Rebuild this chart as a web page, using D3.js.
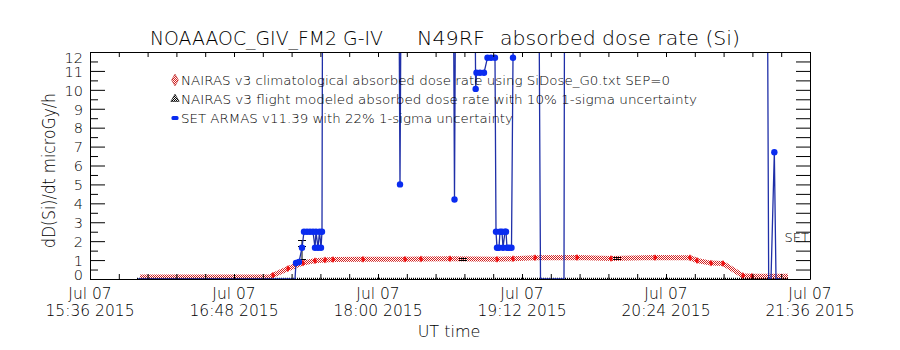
<!DOCTYPE html>
<html>
<head>
<meta charset="utf-8">
<script src="https://cdn.jsdelivr.net/npm/d3@7"></script>
<style>
  body { margin: 0; background: #fff; }
  text { font-family: "DejaVu Sans", sans-serif; font-weight: 200; }
</style>
</head>
<body>
<svg id="chart" width="900" height="350"></svg>
<script>
// ---- data (UT times on 2015-07-07) ----
var xDomain = ["15:36", "21:36"];
var xMajorTicks = ["15:36", "16:48", "18:00", "19:12", "20:24", "21:36"];
var xMinorStep = 14.4; // minutes
var yMajorTicks = d3.range(0, 13, 1);
var yMinorTicks = d3.range(0.5, 12, 1);

// NAIRAS v3 climatological
var redTimes = ["16:01:00","17:06:00","17:07:30","17:15:00","17:22:30","17:28:30","17:33:30","17:37:30",
  "17:52:30","18:13:30","18:21:30","18:36:00","18:59:30","19:07:30","19:18:30","19:39:30","19:56:30",
  "20:18:30","20:36:00","20:39:30","20:46:30","20:52:30","21:02:30","21:07:00","21:25:00"];
var redValues = [0.1,0.1,0.2,0.55,0.85,0.97,1.0,1.03,1.04,1.05,1.06,1.07,1.04,1.07,1.12,1.14,1.08,
  1.13,1.12,0.98,0.84,0.82,0.17,0.14,0.14];

// NAIRAS v3 flight modeled
var blackTimes = ["15:59:30", "21:25:00"];
var blackValues = [0, 0];
var errTimes = ["17:22:00", "17:22:00", "18:42:30", "19:59:30"];
var errLow  = [1.74, 1.05, 1.03, 1.07];
var errHigh = [2.05, 1.74, 1.13, 1.17];

// SET ARMAS v11.39
var blueTimes = ["16:00:00","17:18:30","17:19:00","17:20:30","17:22:00","17:23:00","17:24:30","17:26:00",
  "17:27:30","17:28:30","17:29:00","17:30:00","17:30:45","17:31:30","17:32:00","17:32:15","17:51:00",
  "18:10:30","18:11:00","18:11:30","18:26:00","18:37:45","18:38:15","18:38:45","18:48:30","18:48:50",
  "18:49:15","18:51:00","18:53:00","18:54:45","18:56:30","18:58:30","18:59:00","18:59:30","19:00:30",
  "19:01:00","19:02:00","19:02:30","19:03:30","19:04:00","19:04:30","19:05:30","19:06:45","19:07:30",
  "19:08:00","19:13:30","19:20:30","19:21:15","19:33:00","19:33:15","20:16:00","21:14:45","21:15:20",
  "21:16:30","21:18:10","21:19:00","21:22:00"];
var blueValues = [0,0,0.85,0.9,1.65,2.5,2.5,2.5,
  2.5,1.65,2.5,1.65,2.5,1.65,2.5,14.5,16,
  15,5.0,15,16,15,4.2,15,15,10.05,
  10.9,10.9,10.9,11.7,11.7,11.7,2.5,1.65,1.65,
  2.5,2.5,1.65,2.5,2.5,1.65,1.65,1.65,11.7,
  15,16,15,0,0,15,16,15,0,
  0,6.7,0,0];

var legendLabels = [
  "NAIRAS v3 climatological absorbed dose rate using SiDose_G0.txt SEP=0",
  "NAIRAS v3 flight modeled absorbed dose rate with 10% 1-sigma uncertainty",
  "SET ARMAS v11.39 with 22% 1-sigma uncertainty"
];

// ---- layout ----
var parseT = d3.utcParse("%Y-%m-%d %H:%M:%S");
function T(s) { return parseT("2015-07-07 " + (s.length == 5 ? s + ":00" : s)); }

var margin = {top: 52, right: 90, bottom: 71, left: 90},
    width = 900 - margin.left - margin.right,
    height = 350 - margin.top - margin.bottom;

var svg = d3.select("#chart");
var defs = svg.append("defs");
var hatch = defs.append("pattern").attr("id", "hatch")
  .attr("width", 2).attr("height", 2).attr("patternUnits", "userSpaceOnUse");
hatch.append("rect").attr("x", 0).attr("y", 0).attr("width", 1).attr("height", 1).attr("fill", "#d42020");
hatch.append("rect").attr("x", 1).attr("y", 1).attr("width", 1).attr("height", 1).attr("fill", "#d42020");
var hatchK = defs.append("pattern").attr("id", "hatchK")
  .attr("width", 2).attr("height", 2).attr("patternUnits", "userSpaceOnUse");
hatchK.append("rect").attr("x", 0).attr("y", 0).attr("width", 1).attr("height", 1).attr("fill", "#000");
hatchK.append("rect").attr("x", 1).attr("y", 1).attr("width", 1).attr("height", 1).attr("fill", "#000");
defs.append("clipPath").attr("id", "plotclip")
  .append("rect").attr("x", 0).attr("y", 0).attr("width", width).attr("height", height);

var g = svg.append("g").attr("transform", "translate(" + margin.left + "," + margin.top + ")");

var x = d3.scaleUtc().domain(xDomain.map(T)).range([0, width]);
var y = d3.scaleLinear().domain([0, 12]).range([height, 0]);

var minorDates = d3.range(0, 360.01, xMinorStep).map(function(m) {
  return new Date(T(xDomain[0]).getTime() + m * 60000);
});

// ---- data marks ----
var plot = g.append("g").attr("clip-path", "url(#plotclip)");
var line = d3.line().x(function(d) { return x(d.t); }).y(function(d) { return y(d.v); });

var red = redTimes.map(function(t, i) { return {t: T(t), v: redValues[i]}; });
var black = blackTimes.map(function(t, i) { return {t: T(t), v: blackValues[i]}; });
var blue = blueTimes.map(function(t, i) { return {t: T(t), v: blueValues[i]}; });
var errs = errTimes.map(function(t, i) { return {t: T(t), lo: errLow[i], hi: errHigh[i]}; });

plot.append("path").datum(red)
  .attr("fill", "none").attr("stroke", "url(#hatch)").attr("stroke-width", 5)
  .attr("d", line);
plot.selectAll(".rdot").data(red.slice(2, -1)).join("path")
  .attr("transform", function(d) { return "translate(" + x(d.t) + "," + y(d.v) + ")"; })
  .attr("d", d3.symbol(d3.symbolDiamond, 14))
  .attr("fill", "#f01010");

plot.append("path").datum(black)
  .attr("fill", "none").attr("stroke", "#000").attr("stroke-width", 2.5)
  .attr("stroke-dasharray", "1,1").attr("d", line);

var eb = plot.selectAll(".err").data(errs).join("g");
eb.append("line")
  .attr("x1", function(d) { return x(d.t); }).attr("x2", function(d) { return x(d.t); })
  .attr("y1", function(d) { return y(d.lo); }).attr("y2", function(d) { return y(d.hi); })
  .attr("stroke", "#000");
eb.selectAll(".cap").data(function(d) { return [{t: d.t, v: d.lo}, {t: d.t, v: d.hi}]; }).join("line")
  .attr("x1", function(d) { return x(d.t) - 4; }).attr("x2", function(d) { return x(d.t) + 4; })
  .attr("y1", function(d) { return Math.round(y(d.v)) + 0.5; }).attr("y2", function(d) { return Math.round(y(d.v)) + 0.5; })
  .attr("stroke", "#000");

plot.append("path").datum(blue)
  .attr("fill", "none").attr("stroke", "#1f2fa8").attr("stroke-width", 1.3)
  .attr("d", line);
plot.selectAll(".bdot").data(blue.filter(function(d) { return d.v > 0 && d.v <= 12; })).join("circle")
  .attr("cx", function(d) { return x(d.t); }).attr("cy", function(d) { return y(d.v); })
  .attr("r", 3.2).attr("fill", "#0a2cf0");

// ---- axes ----
function styleAxis(sel) {
  sel.attr("font-family", null).attr("font-size", null);
  sel.selectAll("line, path").attr("stroke", "#000");
}

g.append("g")
  .call(d3.axisLeft(y).tickValues(yMajorTicks).tickSizeInner(-15).tickSizeOuter(0).tickPadding(7))
  .call(styleAxis)
  .call(function(a) {
    a.selectAll("text").attr("font-size", 14.5).attr("fill", "#000")
      .attr("dy", function(d) { return d == 12 ? 10.3 : d == 0 ? 0 : 5.3; });
  });
g.append("g")
  .call(d3.axisLeft(y).tickValues(yMinorTicks).tickSizeInner(-8).tickSizeOuter(0).tickFormat(""))
  .call(styleAxis)
  .call(function(a) { a.select(".domain").remove(); });

g.append("g").attr("transform", "translate(" + width + ",0)")
  .call(d3.axisRight(y).tickValues(d3.range(0.5, 12, 0.5)).tickSizeInner(-14).tickSizeOuter(0).tickFormat(""))
  .call(styleAxis);

g.append("g")
  .call(d3.axisTop(x).tickValues(minorDates).tickSizeInner(-5).tickSizeOuter(0).tickFormat(""))
  .call(styleAxis);

g.append("g").attr("transform", "translate(0," + height + ")")
  .call(d3.axisBottom(x).tickValues(minorDates).tickSizeInner(-5).tickSizeOuter(0).tickFormat(""))
  .call(styleAxis);

var fmtTime = d3.utcFormat("%H:%M %Y");
var xl = g.append("g").selectAll("text").data(xMajorTicks.map(T)).join("text")
  .attr("text-anchor", "middle").attr("font-size", 15.5).attr("fill", "#000")
  .attr("transform", function(d) { return "translate(" + x(d) + "," + height + ")"; });
xl.append("tspan").attr("x", 0).attr("y", 20).text("Jul 07");
xl.append("tspan").attr("x", 0).attr("y", 37).text(function(d) { return fmtTime(d); });

// ---- titles & labels ----
var titleParts = [["NOAAAOC_GIV_FM2 G-IV", 150, 233], ["N49RF", 417, 68], ["absorbed dose rate (Si)", 500, 240]];
svg.append("g").selectAll("text").data(titleParts).join("text")
  .attr("x", function(d) { return d[1]; }).attr("y", 44.5)
  .attr("font-size", 19).attr("fill", "#000")
  .attr("textLength", function(d) { return d[2]; }).attr("lengthAdjust", "spacingAndGlyphs")
  .text(function(d) { return d[0]; });

svg.append("text")
  .attr("transform", "translate(55,170.5) rotate(-90)")
  .attr("text-anchor", "middle").attr("font-size", 17).attr("fill", "#000")
  .attr("textLength", 155).attr("lengthAdjust", "spacingAndGlyphs")
  .text("dD(Si)/dt microGy/h");

svg.append("text")
  .attr("x", 449).attr("y", 337).attr("text-anchor", "middle")
  .attr("font-size", 16).attr("fill", "#000").text("UT time");

g.append("text")
  .attr("x", width - 1).attr("y", y(2.2) + 5).attr("text-anchor", "end")
  .attr("font-size", 13).attr("fill", "#000").text("SET");

// ---- legend ----
var legendWidths = [489, 516, 332];
var leg = svg.append("g").attr("transform", "translate(175,80)");
leg.selectAll("text").data(legendLabels).join("text")
  .attr("x", 6).attr("y", function(d, i) { return i * 19 + 4.5; })
  .attr("font-size", 12).attr("fill", "#000")
  .attr("textLength", function(d, i) { return legendWidths[i]; }).attr("lengthAdjust", "spacingAndGlyphs")
  .text(function(d) { return d; });
leg.append("path").attr("d", d3.symbol(d3.symbolDiamond, 40))
  .attr("fill", "url(#hatch)").attr("stroke", "#c03030").attr("stroke-width", 0.6);
leg.append("path").attr("transform", "translate(0,19)").attr("d", d3.symbol(d3.symbolTriangle, 30))
  .attr("fill", "url(#hatchK)").attr("stroke", "#000").attr("stroke-width", 0.6);
leg.append("rect").attr("x", -3.5).attr("y", 36).attr("width", 7).attr("height", 4).attr("rx", 1.5)
  .attr("fill", "#0a2cf0");
</script>
</body>
</html>
